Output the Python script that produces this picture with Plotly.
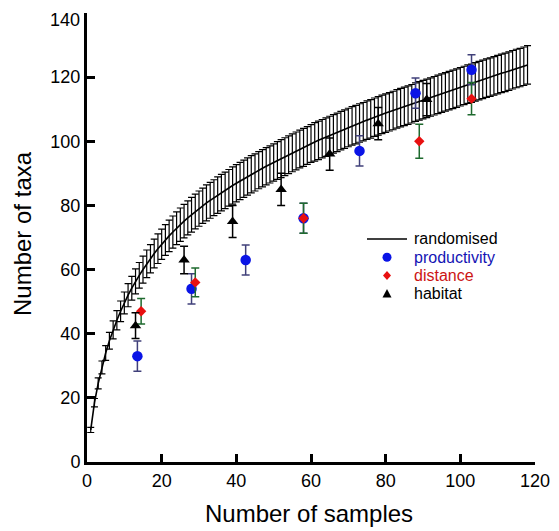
import plotly.graph_objects as go

# Randomised rarefaction curve (mean and SD), samples 1..118
rand_x = list(range(1, 119))
rand_y = [10.0, 18.5, 24.5, 29.5, 34.0, 37.8, 41.2, 44.2, 47.0, 49.6,
          52.0, 54.2, 56.3, 58.2, 60.0, 61.8, 63.4, 65.0, 66.5, 67.9,
          69.2, 70.5, 71.7, 72.9, 74.0, 75.1, 76.1, 77.1, 78.1, 79.0,
          79.9, 80.8, 81.6, 82.4, 83.2, 84.0, 84.7, 85.5, 86.2, 86.9,
          87.6, 88.3, 89.0, 89.7, 90.3, 91.0, 91.6, 92.2, 92.8, 93.4,
          94.0, 94.6, 95.2, 95.8, 96.4, 97.0, 97.6, 98.1, 98.7, 99.3,
          99.8, 100.3, 100.8, 101.3, 101.8, 102.3, 102.8, 103.3, 103.8, 104.3,
          104.8, 105.2, 105.7, 106.1, 106.6, 107.0, 107.5, 107.9, 108.4, 108.8,
          109.2, 109.6, 110.1, 110.5, 110.9, 111.3, 111.7, 112.2, 112.6, 113.0,
          113.4, 113.8, 114.2, 114.6, 115.0, 115.4, 115.8, 116.2, 116.6, 117.0,
          117.4, 117.8, 118.1, 118.5, 118.9, 119.3, 119.7, 120.0, 120.4, 120.8,
          121.2, 121.5, 121.9, 122.3, 122.7, 123.0, 123.4, 123.8]
rand_sd = [0.8, 1.3, 1.7, 2.0, 2.3, 2.6, 2.8, 3.0, 3.2, 3.4,
           3.6, 3.7, 3.9, 4.0, 4.2, 4.3, 4.4, 4.5, 4.6, 4.7,
           4.8, 4.9, 5.0, 5.1, 5.2, 5.2, 5.3, 5.4, 5.4, 5.5,
           5.5, 5.6, 5.6, 5.6, 5.7, 5.7, 5.7, 5.7, 5.8, 5.8,
           5.8, 5.8, 5.8, 5.8, 5.8, 5.8, 5.8, 5.8, 5.8, 5.8,
           5.9, 5.9, 5.9, 5.9, 5.9, 5.9, 5.9, 5.9, 5.9, 5.9,
           6.0, 6.0, 6.0, 6.0, 6.0, 6.0, 6.0, 6.0, 6.0, 6.0,
           6.0, 6.0, 6.0, 6.0, 6.0, 6.0, 6.0, 6.0, 6.0, 6.0,
           6.0, 6.0, 6.0, 6.0, 6.0, 6.0, 6.0, 6.0, 6.0, 6.0,
           6.0, 6.0, 6.0, 6.0, 6.0, 6.0, 6.0, 6.0, 6.0, 6.0,
           6.0, 6.0, 6.0, 6.0, 6.0, 6.0, 6.0, 6.0, 6.0, 6.0,
           6.0, 6.0, 6.0, 6.0, 6.0, 6.0, 6.0, 6.0]

# Productivity
prod_x = [13.5, 28, 42.5, 58, 73, 88, 103]
prod_y = [33, 54, 63, 76, 97, 115, 122.3]
prod_err = [4.7, 4.7, 4.7, 4.7, 4.7, 4.7, 4.7]

# Distance
dist_x = [14.5, 29, 58, 89, 103]
dist_y = [47, 56, 76, 100, 113.3]
dist_err = [4.0, 4.5, 4.7, 5.3, 5.0]

# Habitat
hab_x = [13, 26, 39, 52, 65, 78, 91]
hab_y = [42.5, 63, 75, 85, 96, 105.5, 113]
hab_err = [4.0, 4.3, 5.0, 5.0, 5.0, 5.0, 5.0]

# Axis ticks
x_ticks = [0, 20, 40, 60, 80, 100, 120]
y_ticks = [0, 20, 40, 60, 80, 100, 120, 140]
y_tick_labels = ["0", "20", "40", "60", "80", "100", "120", "140"]

# Legend labels and colours
legend_labels = ["randomised", "productivity", "distance", "habitat"]
legend_text_colors = ["black", "#1414b4", "#cc1414", "black"]

FONT = "Arial, Liberation Sans, sans-serif"
BLUE = "#0a14e6"
RED = "#e81010"

# The page body has an 8px margin: the figure is drawn 8px right/down.
OFF = 8
W, H = 559 - OFF, 531 - OFF
# plot area in screenshot pixels: x 87..535, y 13..462
ML, MR, MT, MB = 87 - OFF, 559 - 535, 13 - OFF, 531 - 462
PW, PH = W - ML - MR, H - MT - MB


def px(xs):
    """screenshot x pixel -> paper x"""
    return (xs - OFF - ML) / PW


def py(ys):
    """screenshot y pixel -> paper y"""
    return (H - MB - (ys - OFF)) / PH


fig = go.Figure()
fig.add_trace(go.Scatter(
    x=rand_x, y=rand_y, mode="lines", name=legend_labels[0],
    line=dict(color="black", width=1.6),
    error_y=dict(type="data", array=rand_sd, visible=True,
                 color="black", thickness=1.2, width=3.5),
))
fig.add_trace(go.Scatter(
    x=prod_x, y=prod_y, mode="markers", name=legend_labels[1],
    marker=dict(symbol="circle", size=10.5, color=BLUE),
    error_y=dict(type="data", array=prod_err, visible=True,
                 color="#40407a", thickness=1.5, width=4),
))
fig.add_trace(go.Scatter(
    x=dist_x, y=dist_y, mode="markers", name=legend_labels[2],
    marker=dict(symbol="diamond", size=8, color=RED),
    error_y=dict(type="data", array=dist_err, visible=True,
                 color="#1e6a2e", thickness=1.5, width=4),
))
fig.add_trace(go.Scatter(
    x=hab_x, y=hab_y, mode="markers", name=legend_labels[3],
    marker=dict(symbol="triangle-up", size=10, color="black"),
    error_y=dict(type="data", array=hab_err, visible=True,
                 color="black", thickness=1.5, width=4),
))

axis_common = dict(
    showline=True, linecolor="black", linewidth=3,
    ticks="inside", ticklen=8, tickwidth=3, tickcolor="black",
    showgrid=False, zeroline=False, mirror=False, automargin=False,
    ticklabeloverflow="allow",
    tickfont=dict(family=FONT, size=18, color="black"),
)

# manual legend (tight row spacing as in the original)
rows_y = [239, 257.3, 275.6, 293.9]
sym_cx = 387
text_x = 413
shapes = [
    dict(type="line", xref="paper", yref="paper",
         x0=px(367), x1=px(407), y0=py(rows_y[0]), y1=py(rows_y[0]),
         line=dict(color="black", width=1.6)),
    dict(type="circle", xref="paper", yref="paper",
         x0=px(sym_cx - 4.5), x1=px(sym_cx + 4.5),
         y0=py(rows_y[1] + 4.5), y1=py(rows_y[1] - 4.5),
         fillcolor=BLUE, line=dict(color=BLUE, width=0)),
    dict(type="path", xref="paper", yref="paper",
         path="M {a},{b} L {c},{d} L {e},{f} L {g},{h} Z".format(
             a=px(sym_cx), b=py(rows_y[2] - 4.5),
             c=px(sym_cx + 4), d=py(rows_y[2]),
             e=px(sym_cx), f=py(rows_y[2] + 4.5),
             g=px(sym_cx - 4), h=py(rows_y[2])),
         fillcolor=RED, line=dict(color=RED, width=0)),
    dict(type="path", xref="paper", yref="paper",
         path="M {a},{b} L {c},{d} L {e},{f} Z".format(
             a=px(sym_cx), b=py(rows_y[3] - 5),
             c=px(sym_cx + 4.5), d=py(rows_y[3] + 3.5),
             e=px(sym_cx - 4.5), f=py(rows_y[3] + 3.5)),
         fillcolor="black", line=dict(color="black", width=0)),
]

annotations = []
for lab, col, ry in zip(legend_labels, legend_text_colors, rows_y):
    annotations.append(dict(
        text=lab, xref="paper", yref="paper", x=px(text_x), y=py(ry),
        xanchor="left", yanchor="middle", showarrow=False,
        borderpad=0,
        font=dict(family=FONT, size=16, color=col)))

# top y tick label: drawn as text kept just inside the page top
annotations.append(dict(
    text=y_tick_labels[-1], xref="paper", yref="paper",
    x=px(81), y=1.0 + (MT - 1) / PH, xanchor="right", yanchor="top",
    showarrow=False, borderpad=0,
    font=dict(family=FONT, size=18, color="black")))

annotations.append(dict(
    text="Number of samples", xref="paper", yref="paper",
    x=px(309), y=py(513), xanchor="center", yanchor="middle",
    showarrow=False, font=dict(family=FONT, size=24, color="black")))
annotations.append(dict(
    text="Number of taxa", xref="paper", yref="paper",
    x=px(22), y=py(234), xanchor="center", yanchor="middle",
    textangle=-90, showarrow=False, borderpad=0,
    font=dict(family=FONT, size=24, color="black")))

fig.update_layout(
    width=W, height=H,
    margin=dict(l=ML, r=MR, t=MT, b=MB),
    paper_bgcolor="white", plot_bgcolor="white",
    showlegend=False,
    xaxis=dict(range=[0, 120], tickvals=x_ticks, **axis_common),
    yaxis=dict(range=[0, 140], tickvals=y_ticks,
               ticktext=y_tick_labels[:-1] + [""], **axis_common),
    shapes=shapes,
    annotations=annotations,
)

fig.write_html("out.html")
